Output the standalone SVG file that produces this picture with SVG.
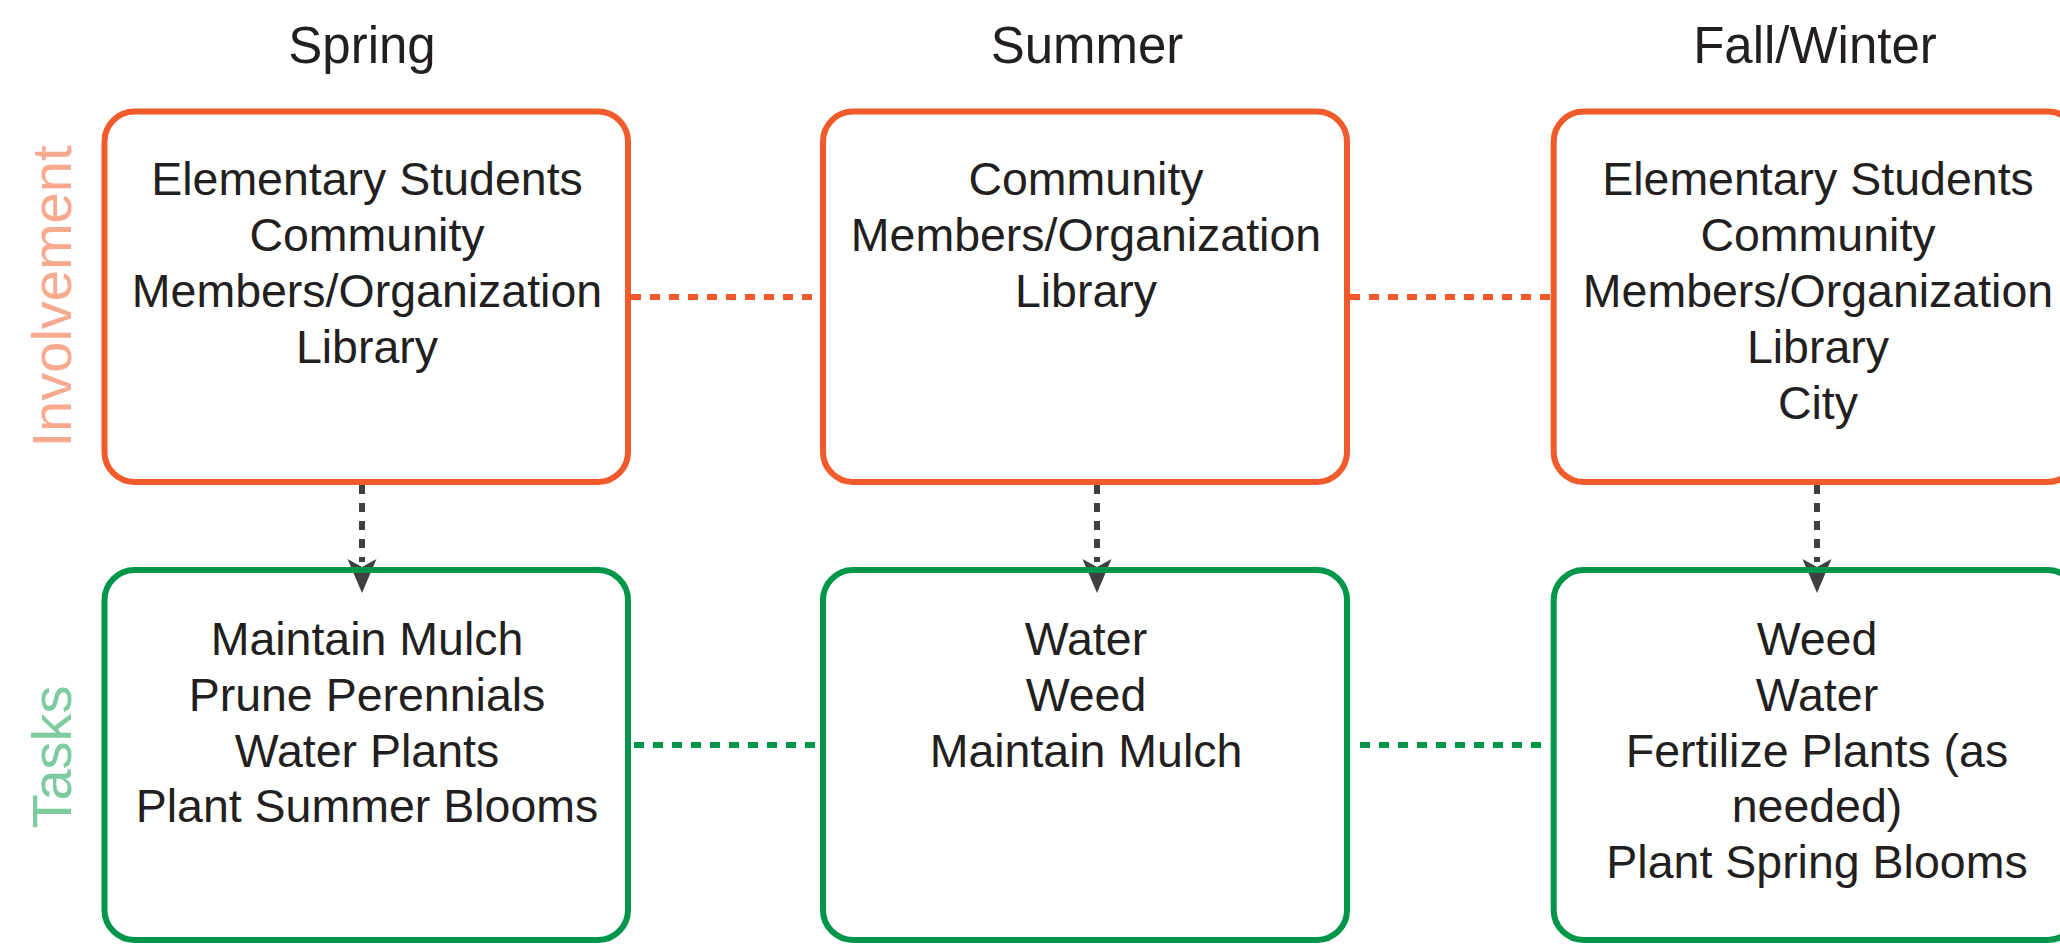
<svg xmlns="http://www.w3.org/2000/svg" width="2060" height="947" viewBox="0 0 2060 947">
<style>
  .title { font-family: "Liberation Sans", Arial, sans-serif; font-size: 51px; fill: #231F20; text-anchor: middle; }
  .body { font-family: "Liberation Sans", Arial, sans-serif; font-size: 46.5px; fill: #231F20; text-anchor: middle; }
  .side { font-family: "Liberation Sans", Arial, sans-serif; font-size: 56px; text-anchor: middle; }
  .inv { fill: none; stroke: #F15A2B; stroke-width: 6; }
  .task { fill: none; stroke: #00964A; stroke-width: 6; }
  .link-o { stroke: #F15A2B; stroke-width: 6; stroke-dasharray: 10 9; fill: none; }
  .link-g { stroke: #00964A; stroke-width: 6; stroke-dasharray: 10 9; fill: none; }
  .arrow { stroke: #404042; stroke-width: 6; stroke-dasharray: 9 9; fill: none; }
  .head { fill: #404042; }
</style>
<rect width="2060" height="947" fill="#FFFFFF"/>

<g id="headers">
  <text class="title" x="362" y="63">Spring</text>
  <text class="title" x="1087" y="63">Summer</text>
  <text class="title" x="1815" y="63">Fall/Winter</text>
</g>

<g id="row-labels">
  <text class="side" fill="#F7AA8F" transform="translate(71,296.5) rotate(-90)">Involvement</text>
  <text class="side" fill="#7FCBA0" transform="translate(71,757) rotate(-90)">Tasks</text>
</g>

<g id="connectors">
  <line class="link-o" x1="631" y1="297" x2="820" y2="297"/>
  <line class="link-o" x1="1350" y1="297" x2="1551" y2="297"/>
  <line class="link-g" x1="634" y1="745" x2="815" y2="745"/>
  <line class="link-g" x1="1360" y1="745" x2="1541" y2="745"/>
  <line class="arrow" x1="362" y1="485" x2="362" y2="562"/>
  <path class="head" d="M362,593 L347.5,559 L362,567 L376.5,559 Z"/>
  <line class="arrow" x1="1097" y1="485" x2="1097" y2="562"/>
  <path class="head" d="M1097,593 L1082.5,559 L1097,567 L1111.5,559 Z"/>
  <line class="arrow" x1="1817" y1="485" x2="1817" y2="562"/>
  <path class="head" d="M1817,593 L1802.5,559 L1817,567 L1831.5,559 Z"/>
</g>

<g id="spring-involvement">
  <rect class="inv" x="104.5" y="111.5" width="523.5" height="370.5" rx="30"/>
  <text class="body" x="367" y="195">Elementary Students</text>
  <text class="body" x="367" y="251">Community</text>
  <text class="body" x="367" y="307">Members/Organization</text>
  <text class="body" x="367" y="363">Library</text>
</g>

<g id="summer-involvement">
  <rect class="inv" x="823" y="111.5" width="524" height="370.5" rx="30"/>
  <text class="body" x="1086" y="195">Community</text>
  <text class="body" x="1086" y="251">Members/Organization</text>
  <text class="body" x="1086" y="307">Library</text>
</g>

<g id="fallwinter-involvement">
  <rect class="inv" x="1553.7" y="111.5" width="524" height="370.5" rx="30"/>
  <text class="body" x="1818" y="195">Elementary Students</text>
  <text class="body" x="1818" y="251">Community</text>
  <text class="body" x="1818" y="307">Members/Organization</text>
  <text class="body" x="1818" y="363">Library</text>
  <text class="body" x="1818" y="419">City</text>
</g>

<g id="spring-tasks">
  <rect class="task" x="104.5" y="570" width="523.5" height="370" rx="30"/>
  <text class="body" x="367" y="655">Maintain Mulch</text>
  <text class="body" x="367" y="711">Prune Perennials</text>
  <text class="body" x="367" y="767">Water Plants</text>
  <text class="body" x="367" y="822">Plant Summer Blooms</text>
</g>

<g id="summer-tasks">
  <rect class="task" x="823" y="570" width="524" height="370" rx="30"/>
  <text class="body" x="1086" y="655">Water</text>
  <text class="body" x="1086" y="711">Weed</text>
  <text class="body" x="1086" y="767">Maintain Mulch</text>
</g>

<g id="fallwinter-tasks">
  <rect class="task" x="1553.7" y="570" width="524" height="370" rx="30"/>
  <text class="body" x="1817" y="655">Weed</text>
  <text class="body" x="1817" y="711">Water</text>
  <text class="body" x="1817" y="767">Fertilize Plants (as</text>
  <text class="body" x="1817" y="822">needed)</text>
  <text class="body" x="1817" y="878">Plant Spring Blooms</text>
</g>
</svg>
